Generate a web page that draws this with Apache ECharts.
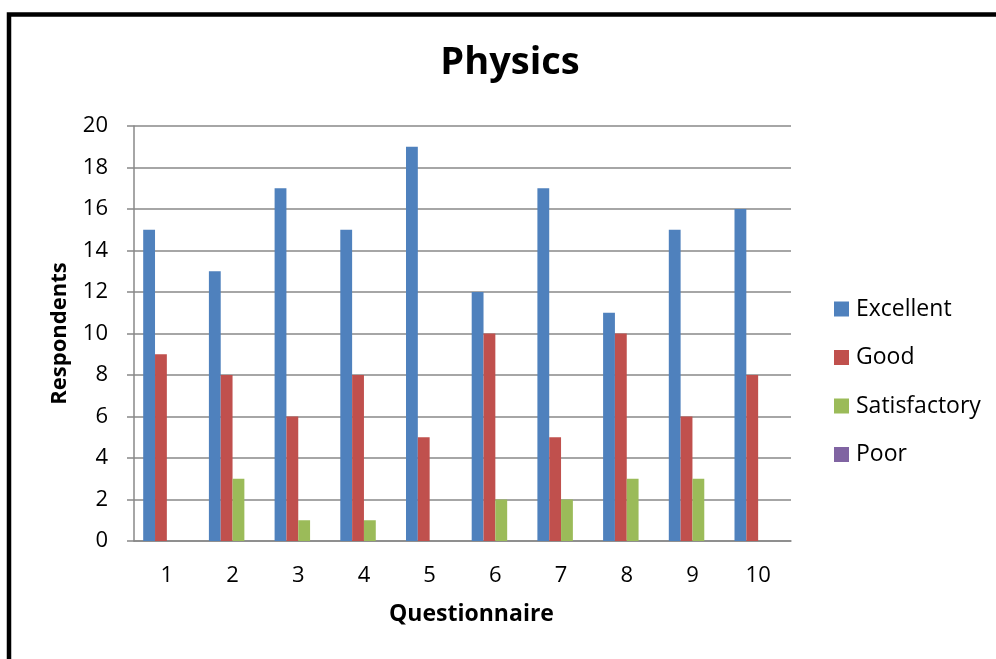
<!DOCTYPE html>
<html>
<head>
<meta charset="utf-8">
<script src="https://cdn.jsdelivr.net/npm/echarts@6/dist/echarts.min.js"></script>
<style>
html,body{margin:0;padding:0;background:#fff;}
#c{width:996px;height:659px;}
</style>
</head>
<body>
<div id="c"></div>
<script>
var categories = ['1','2','3','4','5','6','7','8','9','10'];
var excellent = [15,13,17,15,19,12,17,11,15,16];
var good = [9,8,6,8,5,10,5,10,6,8];
var satisfactory = [0,3,1,1,0,2,2,3,3,0];
var poor = [0,0,0,0,0,0,0,0,0,0];
var seriesNames = ['Excellent','Good','Satisfactory','Poor'];
var colors = ['#4F81BD','#C0504D','#9BBB59','#8064A2'];

var font = 'Open Sans';
var chart = echarts.init(document.getElementById('c'), null, {renderer:'canvas'});
var dataSets = [excellent, good, satisfactory, poor];
var series = dataSets.map(function(d,i){
  return {
    name: seriesNames[i], type:'bar', data:d,
    barGap:'0%', barCategoryGap:'28%',
    itemStyle:{color:colors[i]},
    animation:false
  };
});
chart.setOption({
  animation:false,
  color: colors,
  graphic:[{
    type:'rect', shape:{x:9, y:14.5, width:1200, height:1000},
    style:{fill:'none', stroke:'#000', lineWidth:4.5}, silent:true
  }],
  title:{
    text:'Physics', left:510, top:44, textAlign:'center', padding:0,
    textStyle:{fontFamily:font, fontWeight:'bold', fontSize:38, color:'#000'}
  },
  legend:{
    orient:'vertical', left:834, top:297, padding:0,
    itemWidth:15, itemHeight:15, itemGap:24.5, icon:'rect',
    data: seriesNames,
    textStyle:{fontFamily:font, fontSize:23, color:'#000', lineHeight:24, padding:[0,0,0,2]}
  },
  grid:{left:134, right:205, top:126, bottom:118, containLabel:false},
  xAxis:{
    type:'category', data:categories,
    name:'Questionnaire', nameLocation:'middle', nameGap:62,
    nameTextStyle:{fontFamily:font, fontWeight:'bold', fontSize:23, color:'#000', padding:[0,0,0,18]},
    axisLine:{lineStyle:{color:'#888', width:1.5}},
    axisTick:{show:false},
    axisLabel:{fontFamily:font, fontSize:22, color:'#000', margin:24}
  },
  yAxis:{
    type:'value', min:0, max:20, interval:2,
    name:'Respondents', nameLocation:'middle', nameGap:63, nameRotate:90,
    nameTextStyle:{fontFamily:font, fontWeight:'bold', fontSize:22, color:'#000'},
    axisLine:{show:true, lineStyle:{color:'#888', width:1.5}},
    axisTick:{show:true, length:7, lineStyle:{color:'#888', width:1.5}},
    axisLabel:{fontFamily:font, fontSize:22, color:'#000', margin:26},
    splitLine:{show:true, lineStyle:{color:'#888', width:1.5}}
  },
  series: series
});
</script>
</body>
</html>
